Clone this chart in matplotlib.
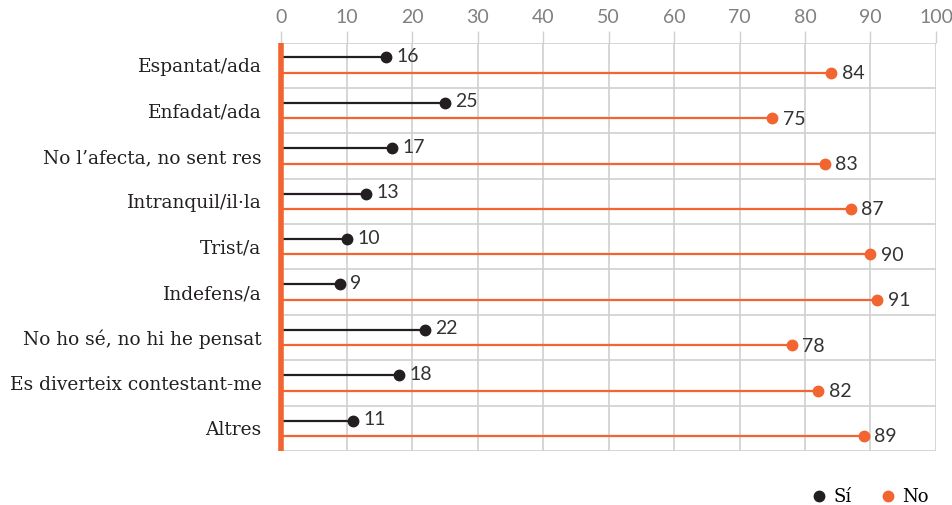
import matplotlib
matplotlib.use("Agg")
import matplotlib.pyplot as plt
from matplotlib.lines import Line2D

categories = ["Espantat/ada", "Enfadat/ada", "No l\u2019afecta, no sent res", "Intranquil/il\u00b7la",
              "Trist/a", "Indefens/a", "No ho s\u00e9, no hi he pensat", "Es diverteix contestant-me", "Altres"]
si_values = [16, 25, 17, 13, 10, 9, 22, 18, 11]
no_values = [84, 75, 83, 87, 90, 91, 78, 82, 89]
x_ticks = [0, 10, 20, 30, 40, 50, 60, 70, 80, 90, 100]
series_names = ["S\u00ed", "No"]

BLACK = "#231f20"
ORANGE = "#f26430"
GRID = "#d0d0d0"
SERIF = ["DejaVu Serif"]
SANS = ["Lato", "DejaVu Sans"]

fig = plt.figure(figsize=(9.53, 5.05), dpi=100)
ax = fig.add_axes([281/953, 1-451/505, (936-281)/953, (451-42.5)/505])

n = len(categories)
for i, (s, o) in enumerate(zip(si_values, no_values)):
    ys = i + 0.33
    yo = i + 0.67
    ax.plot([0, s], [ys, ys], color=BLACK, lw=1.6, solid_capstyle="butt", zorder=3)
    ax.plot([s], [ys], "o", color=BLACK, ms=7.5, zorder=4)
    ax.text(s + 1.6, ys - 0.02, str(s), va="center", ha="left", fontsize=14, color="#333333", family=SANS)
    ax.plot([0, o], [yo, yo], color=ORANGE, lw=1.6, solid_capstyle="butt", zorder=3)
    ax.plot([o], [yo], "o", color=ORANGE, ms=7.5, zorder=4)
    ax.text(o + 1.6, yo + 0.02, str(o), va="center", ha="left", fontsize=14, color="#333333", family=SANS)

ax.set_xlim(0, 100)
ax.set_ylim(n, 0)
ax.set_xticks(x_ticks)
ax.set_yticks(range(n + 1), minor=False)
ax.set_yticklabels([])
ax.set_yticks([i + 0.5 for i in range(n)], minor=True)
ax.set_yticklabels(categories, minor=True, family=SERIF, fontsize=13.4, color="#231f20")
ax.tick_params(axis="y", which="both", length=0, pad=14)
ax.xaxis.tick_top()
ax.tick_params(axis="x", length=9, color=GRID, width=1, labelsize=14, labelcolor="#808080", pad=3)
for lab in ax.get_xticklabels():
    lab.set_family(SANS)
ax.grid(True, axis="x", color=GRID, lw=1.2, zorder=0)
ax.grid(True, axis="y", which="major", color=GRID, lw=1.2, zorder=0)
for sp in ax.spines.values():
    sp.set_visible(False)
ax.axvline(0, color=ORANGE, lw=4, zorder=5, clip_on=False, solid_capstyle="butt")

handles = [Line2D([], [], marker="o", color=BLACK, ls="none", ms=7.5),
           Line2D([], [], marker="o", color=ORANGE, ls="none", ms=7.5)]
leg = fig.legend(handles, series_names, loc="center right", bbox_to_anchor=(945/953, 1-497/505), ncol=2,
                 frameon=False, prop={"family": SERIF, "size": 13}, handletextpad=0.3, columnspacing=1.5,
                 handlelength=1.0)

fig.savefig("out.png", dpi=100)
